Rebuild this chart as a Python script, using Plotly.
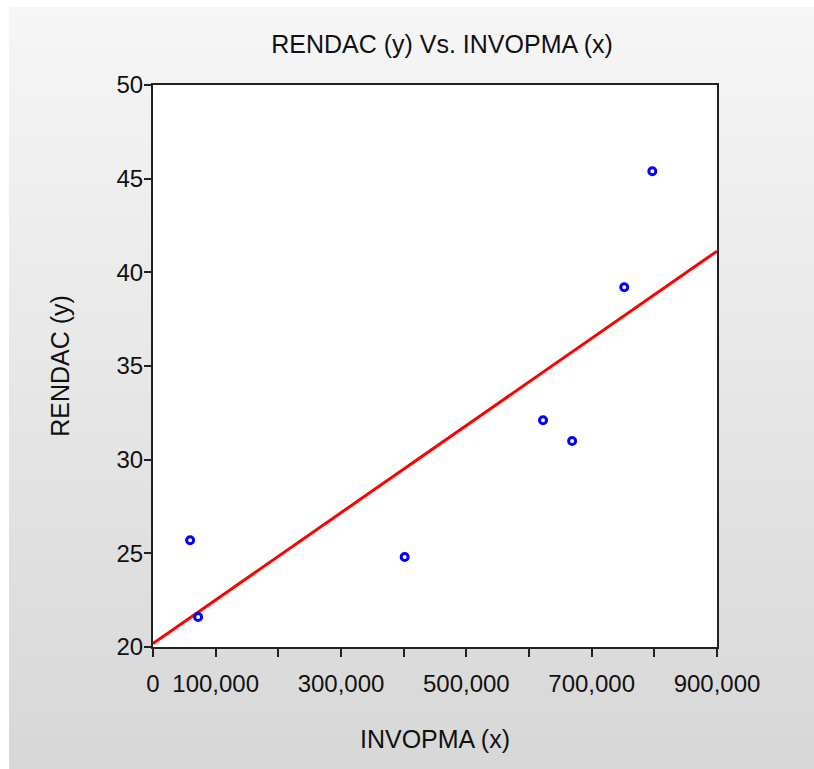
import numpy as np
import plotly.graph_objects as go

# Data
invopma = [59200, 72000, 401600, 622400, 668800, 752000, 796800]
rendac = [25.7, 21.6, 24.8, 32.1, 31.0, 39.2, 45.4]

x_tickvals = [0, 100000, 200000, 300000, 400000, 500000, 600000, 700000, 800000, 900000]
x_ticktext = ["0", "100,000", "", "300,000", "", "500,000", "", "700,000", "", "900,000"]
y_tickvals = [20, 25, 30, 35, 40, 45, 50]

W, H = 814, 769
ML, MT = 153, 85
PW, PH = 564, 562
MR, MB = W - ML - PW, H - MT - PH
PANEL_LEFT, PANEL_TOP = 9, 7

# OLS fit line
slope, intercept = np.polyfit(invopma, rendac, 1)
fit_x = [0, 900000]
fit_y = [intercept + slope * v for v in fit_x]

fig = go.Figure()
fig.add_trace(go.Scatter(x=fit_x, y=fit_y, mode="lines",
                         line=dict(color="#ff0000", width=3),
                         showlegend=False, hoverinfo="skip"))
fig.add_trace(go.Scatter(x=invopma, y=rendac, mode="markers",
                         marker=dict(symbol="circle-open", size=7, color="#0000ff",
                                     line=dict(width=3, color="#0000ff")),
                         showlegend=False))

# gradient panel background (layout shapes)
def px2x(p):
    return (p - ML) / PW

def py2y(p):
    return (H - MB - p) / PH

shapes = []
n = 80
for i in range(n):
    y0p = PANEL_TOP + (H - PANEL_TOP) * i / n
    y1p = PANEL_TOP + (H - PANEL_TOP) * (i + 1) / n
    t = (i + 0.5) / n
    g = int(round(246 - (246 - 215) * t))
    col = f"rgb({g},{g},{g})"
    shapes.append(dict(type="rect", xref="paper", yref="paper", layer="below",
                       x0=px2x(PANEL_LEFT), x1=px2x(W + 20),
                       y0=py2y(min(y1p + 1, H + 20)), y1=py2y(y0p),
                       fillcolor=col, line=dict(width=0)))
shapes.append(dict(type="rect", xref="paper", yref="paper", layer="below",
                   x0=0, x1=1, y0=0, y1=1, fillcolor="white", line=dict(width=0)))

font_family = "Liberation Sans, Arial, sans-serif"
fig.update_layout(
    width=W, height=H,
    margin=dict(l=ML, r=MR, t=MT, b=MB),
    paper_bgcolor="white", plot_bgcolor="white",
    shapes=shapes,
    font=dict(family=font_family, size=24, color="#111111"),
    title=dict(text="RENDAC (y) Vs. INVOPMA (x)", x=442 / W, xanchor="center",
               y=1 - 44 / H, yanchor="middle", font=dict(size=25, color="#111111")),
    xaxis=dict(range=[0, 900000], tickvals=x_tickvals, ticktext=x_ticktext,
               ticks="outside", ticklen=8, tickwidth=2, tickcolor="#222222",
               showline=True, linecolor="#222222", linewidth=2, mirror=True,
               showgrid=False, zeroline=False, ticklabelstandoff=6,
               title=dict(text="INVOPMA (x)", standoff=35, font=dict(size=25))),
    yaxis=dict(range=[20, 50], tickvals=y_tickvals,
               ticks="outside", ticklen=7, tickwidth=2, tickcolor="#222222",
               showline=True, linecolor="#222222", linewidth=2, mirror=True,
               showgrid=False, zeroline=False, ticklabelstandoff=-4,
               title=dict(text="RENDAC (y)", standoff=40, font=dict(size=25))),
)

fig.write_html("out.html", config={"displayModeBar": False},
               post_script="document.body.style.margin='0';document.body.style.overflow='hidden';")
